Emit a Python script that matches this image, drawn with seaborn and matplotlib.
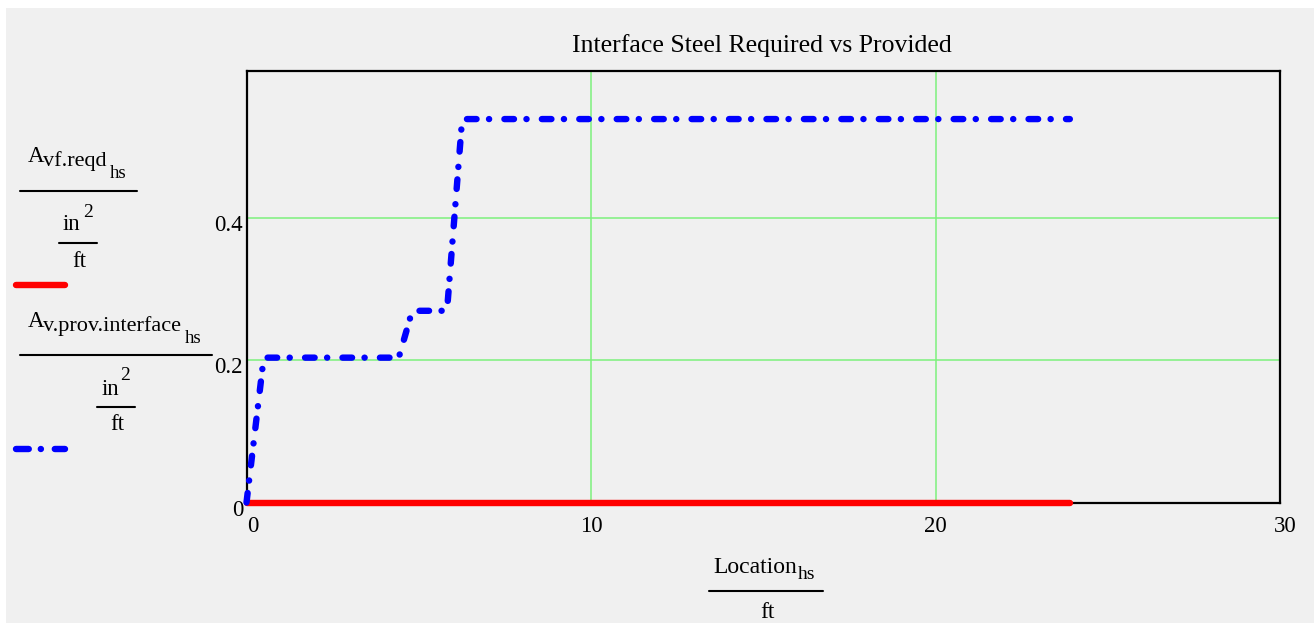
import numpy as np
import pandas as pd
import seaborn as sns
import matplotlib
matplotlib.use("Agg")
import matplotlib.pyplot as plt
from matplotlib.lines import Line2D
from matplotlib.patches import Rectangle
from matplotlib.transforms import ScaledTranslation

# Horizontal-shear interface steel along the girder (in^2/ft vs location in ft)
location_ft = [0.0, 0.50, 4.42, 4.81, 5.82, 6.26, 23.9]
av_prov_interface = [0.0, 0.204, 0.204, 0.270, 0.270, 0.540, 0.540]
av_vf_reqd = [0.0, 0.0, 0.0, 0.0, 0.0, 0.0, 0.0]

x_ticks = [0, 10, 20, 30]
x_tick_labels = ["0", "10", "20", "30"]
y_ticks = [0, 0.2, 0.4]
y_tick_labels = ["0", "0.2", "0.4"]

title_text = "Interface Steel Required vs Provided"

sns.set_style("white")
plt.rcParams["font.family"] = ["Liberation Serif", "DejaVu Serif"]
plt.rcParams["text.color"] = "black"

W, H, DPI = 1314, 623, 100
BG = "#f0f0f0"
GRID = "#7cf07c"
LW = 4.6

fig = plt.figure(figsize=(W / DPI, H / DPI), dpi=DPI, facecolor="white")


def fx(px):
    return px / W


def fy(py):
    return 1 - py / H


# grey panel behind everything
fig.add_artist(Rectangle((fx(6), 0), 1 - fx(6), fy(8), transform=fig.transFigure,
                         facecolor=BG, edgecolor="none", zorder=-10))

ax = fig.add_axes([fx(246.5), fy(502.5), fx(1280) - fx(246.5), fy(71) - fy(502.5)])
ax.set_facecolor(BG)

df = pd.DataFrame({"loc": location_ft, "prov": av_prov_interface, "reqd": av_vf_reqd})

sns.lineplot(data=df, x="loc", y="reqd", ax=ax, color="#ff0000", linewidth=LW,
             sort=False, estimator=None, zorder=3)
red_line = ax.lines[-1]
red_line.set_solid_capstyle("round")
red_line.set_clip_on(False)

sns.lineplot(data=df, x="loc", y="prov", ax=ax, color="#0000ff", linewidth=LW,
             sort=False, estimator=None, zorder=4)
blue_line = ax.lines[-1]
blue_line.set_linestyle((0, (1.5, 1.95, 0.02, 2.39)))
blue_line.set_dash_capstyle("round")
blue_line.set_solid_capstyle("round")
blue_line.set_clip_on(False)

ax.set_xlim(0, 30)
ax.set_ylim(0, 0.6077)
ax.set_xticks(x_ticks)
ax.set_xticklabels(x_tick_labels)
ax.set_yticks(y_ticks)
ax.set_yticklabels(y_tick_labels)
ax.set_xlabel("")
ax.set_ylabel("")
ax.tick_params(axis="both", length=0, labelsize=16.5, colors="black")
ax.tick_params(axis="x", pad=10)
ax.tick_params(axis="y", pad=2.5)

ax.grid(True, color=GRID, linewidth=1.1)
ax.set_axisbelow(True)
for sp in ax.spines.values():
    sp.set_visible(True)
    sp.set_color("black")
    sp.set_linewidth(1.6)
    sp.set_zorder(2)

# small per-label nudges
for lab in ax.get_yticklabels():
    lab.set_transform(lab.get_transform() + ScaledTranslation(0, -5 / DPI, fig.dpi_scale_trans))
xl = ax.get_xticklabels()
xl[0].set_transform(xl[0].get_transform() + ScaledTranslation(6 / DPI, 0, fig.dpi_scale_trans))
xl[-1].set_transform(xl[-1].get_transform() + ScaledTranslation(5 / DPI, 0, fig.dpi_scale_trans))

# title
fig.text(fx(762), fy(52), title_text, ha="center", va="baseline", fontsize=18.5)


def txt(x, y, s, size):
    fig.text(fx(x), fy(y), s, ha="left", va="baseline", fontsize=size)


def hline(x0, x1, y, lw=1.5, color="black", **kw):
    fig.add_artist(Line2D([fx(x0), fx(x1)], [fy(y), fy(y)], transform=fig.transFigure,
                          color=color, linewidth=lw, **kw))


# y-axis quantity: A_vf.reqd_hs / (in^2/ft)
txt(28, 162, "A", 16.5)
txt(43, 166, "vf.reqd", 16)
txt(110, 178, "hs", 13.5)
hline(19.7, 137, 190.7)
txt(63, 230, "in", 16.5)
txt(83, 216.7, "2", 14)
hline(59, 97, 242.7)
txt(72, 266.7, "ft", 16.5)
hline(16, 65, 284.7, lw=LW, color="#ff0000", solid_capstyle="round")

# y-axis quantity: A_v.prov.interface_hs / (in^2/ft)
txt(28, 326.7, "A", 16.5)
txt(43, 330.7, "v.prov.interface", 16)
txt(185, 343.3, "hs", 13.5)
hline(19.7, 212, 355)
txt(101.7, 395, "in", 16.5)
txt(120, 380, "2", 14)
hline(97, 135, 406.7)
txt(110, 430, "ft", 16.5)
hline(16, 65, 449, lw=LW, color="#0000ff", linestyle=(0, (2.0, 1.88, 0.02, 2.17)),
      dash_capstyle="round")

# x-axis quantity: Location_hs / ft
txt(713, 573.3, "Location", 17)
txt(798, 579.3, "hs", 14)
hline(709, 823, 590.7)
txt(760, 618.3, "ft", 17)

fig.savefig("out.png", dpi=DPI, facecolor="white")
